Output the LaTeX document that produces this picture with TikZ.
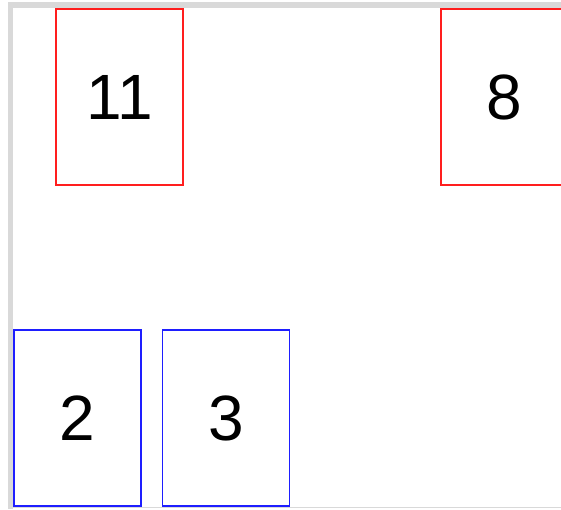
\documentclass[tikz,border=0pt]{standalone}
\usepackage{fontspec}
\setmainfont{Liberation Sans}
\definecolor{frameGray}{RGB}{217, 217, 217}
\definecolor{cardRed}{RGB}{255, 30, 30}
\definecolor{cardBlue}{RGB}{30, 30, 255}
\begin{document}
\begin{tikzpicture}[x=1pt, y=-1pt,
    card/.style={draw, line width=1.3pt, minimum width=127pt, minimum height=176pt,
                 inner sep=0pt, font=\fontsize{64}{70}\selectfont},
    top/.style={card, cardRed},
    bottom/.style={card, cardBlue}
  ]
    \useasboundingbox (0,0) rectangle (561,509);
    \clip (0,0) rectangle (561,509);

    % Frame
    \fill[frameGray] (8,2) rectangle (561,8);
    \fill[frameGray] (8,2) rectangle (13,509);
    \draw[frameGray, line width=1pt] (13,507.5) -- (561,507.5);

    % Top row
    \node[top] (box11) at (119.5, 97) {\textcolor{black}{11}};
    \node[top] (box8) at (504.5, 97) {\textcolor{black}{8}};

    % Bottom row
    \node[bottom] (box2) at (77.5, 418) {\textcolor{black}{2}};
    \node[bottom] (box3) at (226, 418) {\textcolor{black}{3}};
  \end{tikzpicture}
\end{document}
